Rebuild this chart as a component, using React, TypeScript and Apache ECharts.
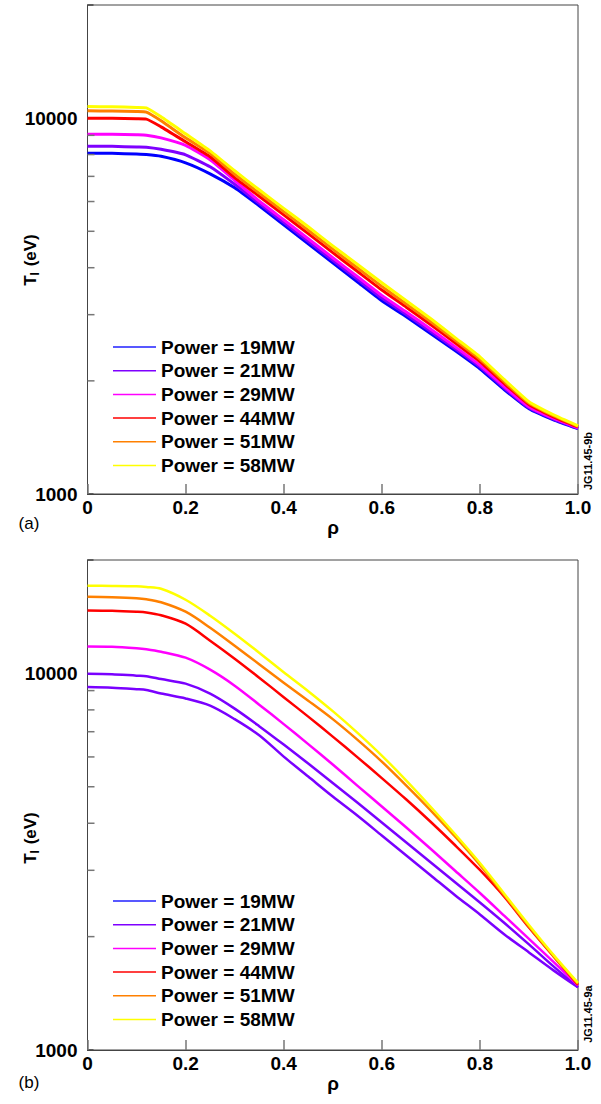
import React, { useEffect, useRef } from "react";
import * as echarts from "echarts";

// ---------- data ----------
const rho = [0, 0.05, 0.1, 0.12, 0.15, 0.2, 0.25, 0.3, 0.35, 0.4, 0.45, 0.5, 0.55, 0.6, 0.65, 0.7, 0.75, 0.8, 0.85, 0.9, 0.95, 1.0];

const powerLabels = ["Power = 19MW", "Power = 21MW", "Power = 29MW", "Power = 44MW", "Power = 51MW", "Power = 58MW"];

// panel (a)
const a19 = [8071, 8061, 8022, 8000, 7914, 7605, 7110, 6526, 5844, 5203, 4631, 4123, 3670, 3267, 2962, 2669, 2405, 2154, 1894, 1686, 1576, 1492];
const a21 = [8424, 8414, 8378, 8370, 8261, 7987, 7421, 6667, 5931, 5283, 4703, 4186, 3729, 3321, 3005, 2705, 2433, 2178, 1911, 1696, 1583, 1495];
const a29 = [9067, 9061, 9028, 9010, 8864, 8466, 7746, 6833, 6019, 5365, 4778, 4253, 3789, 3376, 3050, 2744, 2463, 2202, 1930, 1708, 1591, 1500];
const a44 = [10000, 9988, 9957, 9940, 9480, 8649, 7890, 6946, 6198, 5528, 4930, 4388, 3913, 3490, 3141, 2820, 2522, 2251, 1965, 1730, 1605, 1508];
const a51 = [10460, 10440, 10410, 10375, 9840, 8864, 8060, 7093, 6321, 5641, 5034, 4481, 3998, 3568, 3203, 2872, 2563, 2284, 1989, 1745, 1615, 1514];
const a58 = [10740, 10720, 10680, 10650, 10080, 9085, 8185, 7243, 6447, 5755, 5139, 4574, 4085, 3647, 3266, 2925, 2603, 2318, 2014, 1760, 1625, 1519];

// panel (b)
const b19 = [9203, 9164, 9080, 9036, 8839, 8579, 8210, 7560, 6850, 6012, 5321, 4709, 4193, 3711, 3284, 2907, 2572, 2290, 2027, 1816, 1627, 1467];
const b21 = [9982, 9951, 9860, 9830, 9658, 9390, 8834, 8061, 7243, 6470, 5761, 5114, 4540, 4018, 3556, 3147, 2785, 2465, 2174, 1907, 1667, 1467];
const b29 = [11793, 11771, 11664, 11593, 11417, 11006, 10229, 9276, 8260, 7333, 6489, 5726, 5036, 4430, 3897, 3417, 2988, 2612, 2270, 1972, 1714, 1485];
const b44 = [14693, 14666, 14577, 14514, 14268, 13547, 12211, 10939, 9741, 8647, 7676, 6794, 5994, 5272, 4624, 4030, 3491, 3006, 2549, 2115, 1772, 1489];
const b51 = [15975, 15927, 15830, 15733, 15448, 14577, 13220, 11843, 10578, 9448, 8464, 7560, 6670, 5831, 5036, 4323, 3677, 3099, 2572, 2128, 1778, 1498];
const b58 = [17085, 17070, 17033, 16960, 16775, 15685, 14225, 12744, 11348, 10074, 8970, 7938, 6961, 6049, 5193, 4417, 3734, 3137, 2596, 2148, 1789, 1507];

const yTickLabels = [1000, 10000];
const xTickLabels = ["0", "0.2", "0.4", "0.6", "0.8", "1.0"];
const minorTickValues = [2000, 3000, 4000, 5000, 6000, 7000, 8000, 9000];

const colorsA = ["#0000ff", "#7f00ff", "#ff00ff", "#ff0000", "#ff8000", "#ffff00"];
const colorsB = ["#7a00ff", "#7a00ff", "#ff00ff", "#ff0000", "#ff8000", "#ffff00"];
const legendColors = ["#2020ff", "#7f00ff", "#ff00ff", "#ff0000", "#ff8000", "#ffff00"];

const FONT = "'Liberation Sans', Arial, Helvetica, sans-serif";

export default function App() {
  const ref = useRef<HTMLDivElement>(null);

  useEffect(() => {
    const el = ref.current;
    if (!el) return;
    const chart = echarts.init(el, null, { renderer: "svg" });

    const panels = [
      { series: [a19, a21, a29, a44, a51, a58], colors: colorsA, width: 3, smooth: 0.15 },
      { series: [b19, b21, b29, b44, b51, b58], colors: colorsB, width: 2.5, smooth: 0.3 },
    ];

    const grids = [
      { left: 87.5, top: 5, width: 490.5, height: 489 },
      { left: 87.5, top: 560, width: 490.5, height: 490 },
    ];

    const labelFont = { fontSize: 19, fontWeight: "bold" as const, fontFamily: FONT, color: "#000" };

    const option: any = {
      animation: false,
      backgroundColor: "#fff",
      grid: grids.map((g) => ({ ...g, show: true, borderColor: "#444", borderWidth: 1, backgroundColor: "transparent" })),
      xAxis: [0, 1].map((g) => ({
        type: "value",
        gridIndex: g,
        min: 0,
        max: 1,
        interval: 0.2,
        axisLine: { show: true, lineStyle: { color: "#444", width: 1 } },
        axisTick: { show: true, inside: true, length: 10, lineStyle: { color: "#777", width: 1.5 } },
        splitLine: { show: false },
        axisLabel: {
          ...labelFont,
          margin: 4,
          formatter: (v: number) => xTickLabels[Math.round(v / 0.2)] ?? "",
        },
      })),
      yAxis: [0, 1].map((g) => ({
        type: "log",
        logBase: 10,
        gridIndex: g,
        min: 1000,
        max: 20000,
        axisLine: { show: true, lineStyle: { color: "#444", width: 1 } },
        axisTick: { show: true, inside: true, length: 6, lineStyle: { color: "#444", width: 1.5 } },
        splitLine: { show: false },
        minorTick: { show: false },
        axisLabel: {
          ...labelFont,
          margin: 10,
          formatter: (v: number) => (yTickLabels.includes(Math.round(v)) ? String(Math.round(v)) : ""),
        },
      })),
      legend: [0, 1].map((g) => ({
        orient: "vertical",
        left: 113,
        top: g === 0 ? 337 : 891,
        padding: 0,
        icon: "rect",
        itemWidth: 43,
        itemHeight: 1.5,
        itemGap: 3.7,
        selectedMode: false,
        data: powerLabels.map((n, i) => ({ name: n, itemStyle: { color: legendColors[i], borderWidth: 0 } })),
        textStyle: { fontSize: 19, fontWeight: "bold", fontFamily: FONT, color: "#000", lineHeight: 20 },
      })),
      series: panels.flatMap((p, g) =>
        p.series.map((arr, i) => ({
          type: "line",
          name: powerLabels[i],
          xAxisIndex: g,
          yAxisIndex: g,
          symbol: "none",
          showSymbol: false,
          smooth: p.smooth,
          lineStyle: { color: p.colors[i], width: p.width, join: "round" },
          itemStyle: { color: p.colors[i] },
          data: rho.map((r, k) => [r, arr[k]]),
          z: 2 + i,
        }))
      ),
    };

    chart.setOption(option);

    const texts: any[] = [];
    const titleRich = {
      b: { fontSize: 17, fontWeight: "bold", fontFamily: FONT, fill: "#000" },
      s: { fontSize: 12, fontWeight: "bold", fontFamily: FONT, fill: "#000", padding: [9, 1, 0, 0] },
    };
    const yTitleY = [260, 838];
    const xTitleY = [527, 1083];
    const panelLetterY = [523, 1082];
    const codeY = [461, 1014];
    const codes = ["JG11.45-9b", "JG11.45-9a"];
    const letters = ["(a)", "(b)"];
    [0, 1].forEach((g) => {
      texts.push({
        type: "text",
        id: `yt${g}`,
        x: 30,
        y: yTitleY[g],
        rotation: Math.PI / 2,
        style: { text: "{b|T}{s|I}{b| (eV)}", rich: titleRich, align: "center", verticalAlign: "middle" },
      });
      texts.push({
        type: "text",
        id: `xt${g}`,
        x: 333,
        y: xTitleY[g],
        style: { text: "ρ", fontSize: 19, fontWeight: "bold", fontFamily: FONT, fill: "#000", align: "center", verticalAlign: "middle" },
      });
      texts.push({
        type: "text",
        id: `pl${g}`,
        x: 29,
        y: panelLetterY[g],
        style: { text: letters[g], fontSize: 17, fontFamily: FONT, fill: "#000", align: "center", verticalAlign: "middle" },
      });
      texts.push({
        type: "text",
        id: `cd${g}`,
        x: 588,
        y: codeY[g],
        rotation: Math.PI / 2,
        style: { text: codes[g], fontSize: 11, fontWeight: "bold", fontFamily: FONT, fill: "#000", align: "center", verticalAlign: "middle" },
      });
    });

    const ticks: any[] = [];
    [0, 1].forEach((g) => {
      const x0 = chart.convertToPixel({ xAxisIndex: g } as any, 0) as unknown as number;
      minorTickValues.forEach((v) => {
        const y = chart.convertToPixel({ yAxisIndex: g } as any, v) as unknown as number;
        ticks.push({
          type: "line",
          id: `mt${g}_${v}`,
          silent: true,
          z: 10,
          shape: { x1: x0, y1: y, x2: x0 + 7, y2: y },
          style: { stroke: "#777", lineWidth: 1.5 },
        });
      });
    });

    chart.setOption({ graphic: [...texts, ...ticks] });

    return () => {
      chart.dispose();
    };
  }, []);

  return <div ref={ref} style={{ position: "absolute", left: 0, top: 0, width: 601, height: 1104 }} />;
}
